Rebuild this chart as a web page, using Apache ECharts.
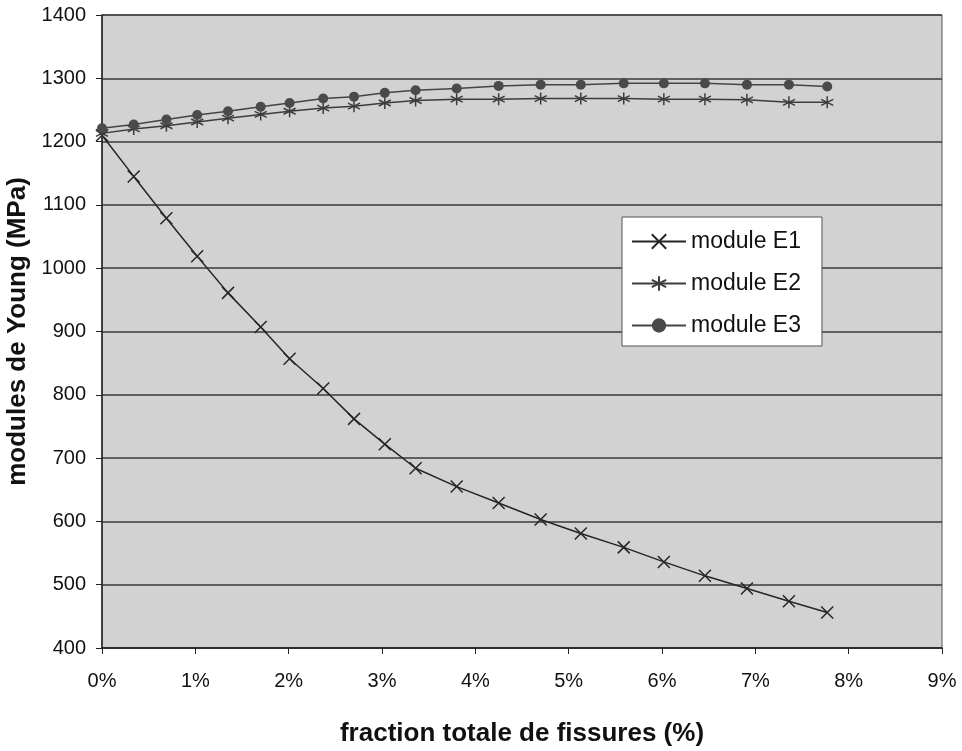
<!DOCTYPE html>
<html>
<head>
<meta charset="utf-8">
<script src="https://cdn.jsdelivr.net/npm/echarts@6/dist/echarts.min.js"></script>
<style>html,body{margin:0;padding:0;background:#fff}#c{width:962px;height:751px}</style>
</head>
<body>
<div id="c"></div>
<script>
const xFraction = [0, 0.34, 0.69, 1.02, 1.35, 1.70, 2.01, 2.37, 2.70, 3.03, 3.36, 3.80, 4.25, 4.70, 5.13, 5.59, 6.02, 6.46, 6.91, 7.36, 7.77];
const moduleE1 = [1210, 1145, 1079, 1019, 961, 907, 857, 810, 762, 722, 684, 655, 629, 603, 581, 559, 536, 514, 494, 474, 456];
const moduleE2 = [1213, 1220, 1225, 1231, 1237, 1243, 1248, 1253, 1256, 1261, 1265, 1267, 1267, 1268, 1268, 1268, 1267, 1267, 1266, 1262, 1262];
const moduleE3 = [1221, 1227, 1235, 1242, 1248, 1255, 1261, 1268, 1271, 1277, 1281, 1284, 1288, 1290, 1290, 1292, 1292, 1292, 1290, 1290, 1287];
const seriesNames = ['module E1', 'module E2', 'module E3'];
const xTitle = 'fraction totale de fissures (%)';
const yTitle = 'modules de Young (MPa)';

const FONT = '"Liberation Sans", Arial, sans-serif';
const pair = arr => arr.map((v, i) => [xFraction[i], v]);

const crossPath = 'path://M0,0L10,10M10,0L0,10';
const starPath = 'path://M5,0L5,10M0,2.5L10,7.5M0,7.5L10,2.5';

const chart = echarts.init(document.getElementById('c'), null, {renderer: 'canvas'});
chart.setOption({
  backgroundColor: '#ffffff',
  animation: false,
  grid: {
    left: 102, right: 20, top: 15, bottom: 103,
    outerBoundsMode: 'none', containLabel: false,
    show: true, backgroundColor: '#d2d2d2', borderColor: '#555', borderWidth: 1
  },
  legend: {
    orient: 'vertical',
    left: 622, top: 217,
    padding: [13, 21, 9, 9],
    itemWidth: 54, itemHeight: 18, itemGap: 19,
    backgroundColor: '#ffffff', borderColor: '#555', borderWidth: 1,
    textStyle: {fontFamily: FONT, fontSize: 23, color: '#111'},
    data: seriesNames
  },
  xAxis: {
    type: 'value', min: 0, max: 9, interval: 1,
    name: xTitle, nameLocation: 'middle', nameGap: 73,
    nameTextStyle: {fontFamily: FONT, fontSize: 26, fontWeight: 'bold', color: '#111'},
    axisLine: {show: true, lineStyle: {color: '#222', width: 1.5}},
    axisTick: {show: true, length: 6, lineStyle: {color: '#222'}},
    axisLabel: {formatter: '{value}%', fontFamily: FONT, fontSize: 20, color: '#111', margin: 23},
    splitLine: {show: false}
  },
  yAxis: {
    type: 'value', min: 400, max: 1400, interval: 100,
    name: yTitle, nameLocation: 'middle', nameGap: 69,
    nameTextStyle: {fontFamily: FONT, fontSize: 26, fontWeight: 'bold', color: '#111'},
    axisLine: {show: true, lineStyle: {color: '#222', width: 1.5}},
    axisTick: {show: true, length: 6, lineStyle: {color: '#222'}},
    axisLabel: {formatter: v => String(v), fontFamily: FONT, fontSize: 20, color: '#111', margin: 16},
    splitLine: {show: true, lineStyle: {color: '#3a3a3a', width: 1.5}}
  },
  series: [
    {
      name: seriesNames[0], type: 'line', data: pair(moduleE1),
      symbol: crossPath, symbolSize: 12, showAllSymbol: true,
      lineStyle: {color: '#262626', width: 1.5},
      itemStyle: {color: '#262626', borderColor: '#262626', borderWidth: 1.5}
    },
    {
      name: seriesNames[1], type: 'line', data: pair(moduleE2),
      symbol: starPath, symbolSize: 12, showAllSymbol: true,
      lineStyle: {color: '#3c3c3c', width: 1.5},
      itemStyle: {color: '#3c3c3c', borderColor: '#3c3c3c', borderWidth: 1.5}
    },
    {
      name: seriesNames[2], type: 'line', data: pair(moduleE3),
      symbol: 'circle', symbolSize: 10, showAllSymbol: true,
      lineStyle: {color: '#444', width: 1.5},
      itemStyle: {color: '#4a4a4a', borderColor: '#4a4a4a', borderWidth: 0}
    }
  ]
});
</script>
</body>
</html>
